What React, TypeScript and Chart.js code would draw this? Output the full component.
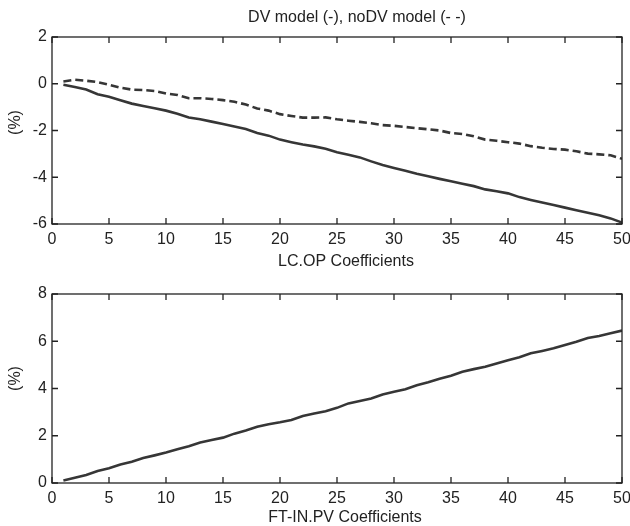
import React, { useEffect, useRef } from "react";
import { Chart, registerables } from "chart.js";

Chart.register(...registerables);

// ---------------- data ----------------
const xValues = [
  1, 2, 3, 4, 5, 6, 7, 8, 9, 10, 11, 12, 13, 14, 15, 16, 17, 18, 19, 20, 21, 22, 23, 24, 25,
  26, 27, 28, 29, 30, 31, 32, 33, 34, 35, 36, 37, 38, 39, 40, 41, 42, 43, 44, 45, 46, 47, 48, 49, 50,
];

const dvValues = [
  -0.04, -0.14, -0.25, -0.45, -0.56, -0.71, -0.85, -0.95, -1.05, -1.15,
  -1.28, -1.44, -1.52, -1.62, -1.72, -1.83, -1.94, -2.11, -2.22, -2.39,
  -2.5, -2.6, -2.68, -2.78, -2.93, -3.04, -3.15, -3.32, -3.48, -3.6,
  -3.72, -3.85, -3.96, -4.07, -4.17, -4.28, -4.38, -4.52, -4.6, -4.69,
  -4.85, -4.97, -5.08, -5.19, -5.3, -5.41, -5.52, -5.63, -5.76, -5.94,
];

const noDvValues = [
  0.1, 0.17, 0.13, 0.07, -0.04, -0.17, -0.25, -0.27, -0.31, -0.42,
  -0.48, -0.62, -0.62, -0.65, -0.7, -0.77, -0.89, -1.06, -1.15, -1.3,
  -1.38, -1.45, -1.45, -1.44, -1.52, -1.58, -1.63, -1.69, -1.77, -1.8,
  -1.85, -1.9, -1.95, -2.0, -2.11, -2.15, -2.25, -2.39, -2.44, -2.5,
  -2.56, -2.67, -2.74, -2.79, -2.82, -2.89, -2.99, -3.02, -3.06, -3.21,
];

const ftInValues = [
  0.11, 0.22, 0.34, 0.51, 0.62, 0.78, 0.9, 1.06, 1.17, 1.29,
  1.43, 1.56, 1.71, 1.82, 1.92, 2.09, 2.22, 2.38, 2.49, 2.57,
  2.67, 2.84, 2.94, 3.04, 3.18, 3.37, 3.47, 3.58, 3.75, 3.86,
  3.97, 4.14, 4.26, 4.41, 4.54, 4.71, 4.82, 4.92, 5.06, 5.2,
  5.32, 5.49, 5.59, 5.7, 5.84, 5.98, 6.14, 6.22, 6.34, 6.45,
];

const xTicks = [0, 5, 10, 15, 20, 25, 30, 35, 40, 45, 50];
const topYTicks = [-6, -4, -2, 0, 2];
const bottomYTicks = [0, 2, 4, 6, 8];

const titleText = "DV model (-), noDV model (- -)";
const topXLabel = "LC.OP Coefficients";
const bottomXLabel = "FT-IN.PV Coefficients";
const yLabel = "(%)";

// ---------------- styles ----------------
const FONT = "'Liberation Sans', Arial, Helvetica, sans-serif";
const FONT_SIZE = 16;
const TEXT_COLOR = "#222222";
const AXIS_COLOR = "#222222";
const LINE_COLOR = "#363636";

Chart.defaults.font.family = FONT;
Chart.defaults.font.size = FONT_SIZE;
Chart.defaults.color = TEXT_COLOR;

const framePlugin = {
  id: "frameDecor",
  afterDatasetsDraw(chart: any) {
    const { ctx, chartArea, scales } = chart;
    const { left, right, top, bottom } = chartArea;
    const d = chart.options.plugins.frameDecor || {};
    ctx.save();
    ctx.strokeStyle = AXIS_COLOR;
    ctx.lineWidth = 1.3;
    ctx.strokeRect(left, top, right - left, bottom - top);
    const tl = 6;
    ctx.beginPath();
    scales.x.ticks.forEach((t: any) => {
      const px = scales.x.getPixelForValue(t.value);
      ctx.moveTo(px, bottom);
      ctx.lineTo(px, bottom - tl);
      ctx.moveTo(px, top);
      ctx.lineTo(px, top + tl);
    });
    scales.y.ticks.forEach((t: any) => {
      const py = scales.y.getPixelForValue(t.value);
      ctx.moveTo(left, py);
      ctx.lineTo(left + tl, py);
      ctx.moveTo(right, py);
      ctx.lineTo(right - tl, py);
    });
    ctx.stroke();

    ctx.fillStyle = TEXT_COLOR;
    ctx.font = `${FONT_SIZE}px ${FONT}`;
    const cx = (left + right) / 2;
    if (d.title) {
      ctx.textAlign = "center";
      ctx.textBaseline = "alphabetic";
      ctx.fillText(d.title, cx + d.titleDx, d.titleBaseline);
    }
    if (d.xLabel) {
      ctx.textAlign = "center";
      ctx.textBaseline = "alphabetic";
      ctx.fillText(d.xLabel, cx + d.xLabelDx, d.xLabelBaseline);
    }
    if (d.yLabel) {
      ctx.save();
      ctx.translate(d.yLabelX, (top + bottom) / 2 + d.yLabelDy);
      ctx.rotate(-Math.PI / 2);
      ctx.textAlign = "center";
      ctx.textBaseline = "middle";
      ctx.fillText(d.yLabel, 0, 0);
      ctx.restore();
    }
    ctx.restore();
  },
};

function makeConfig(
  datasets: any[],
  yMin: number,
  yMax: number,
  yTicks: number[],
  padTop: number,
  xHeight: number,
  decor: any
) {
  return {
    type: "line",
    data: { datasets },
    options: {
      animation: false,
      responsive: false,
      devicePixelRatio: 1,
      layout: { padding: { top: padTop, right: 8, left: 0, bottom: 0 } },
      plugins: {
        legend: { display: false },
        tooltip: { enabled: false },
        title: { display: false },
        frameDecor: decor,
      },
      elements: { point: { radius: 0 }, line: { tension: 0 } },
      scales: {
        x: {
          type: "linear",
          min: 0,
          max: 50,
          grid: { display: false, drawTicks: false },
          border: { display: false },
          ticks: { padding: 6, color: TEXT_COLOR, font: { size: FONT_SIZE }, maxRotation: 0 },
          afterBuildTicks: (s: any) => {
            s.ticks = xTicks.map((v) => ({ value: v }));
          },
          afterFit: (s: any) => {
            s.height = xHeight;
            s.paddingLeft = 0;
            s.paddingRight = 0;
          },
        },
        y: {
          type: "linear",
          min: yMin,
          max: yMax,
          grid: { display: false, drawTicks: false },
          border: { display: false },
          ticks: { padding: 5, color: TEXT_COLOR, font: { size: FONT_SIZE } },
          afterBuildTicks: (s: any) => {
            s.ticks = yTicks.map((v) => ({ value: v }));
          },
          afterFit: (s: any) => {
            s.width = 52;
            s.paddingTop = 0;
            s.paddingBottom = 0;
          },
        },
      },
    },
    plugins: [framePlugin],
  };
}

function series(values: number[]) {
  return xValues.map((x, i) => ({ x, y: values[i] }));
}

export default function App() {
  const topRef = useRef<HTMLCanvasElement | null>(null);
  const bottomRef = useRef<HTMLCanvasElement | null>(null);

  useEffect(() => {
    const top = new Chart(
      topRef.current as HTMLCanvasElement,
      makeConfig(
        [
          {
            label: "DV model",
            data: series(dvValues),
            borderColor: LINE_COLOR,
            borderWidth: 2.6,
            fill: false,
          },
          {
            label: "noDV model",
            data: series(noDvValues),
            borderColor: LINE_COLOR,
            borderWidth: 2.6,
            borderDash: [8, 4],
            fill: false,
          },
        ],
        -6,
        2,
        topYTicks,
        37,
        46,
        {
          title: titleText,
          titleDx: 20,
          titleBaseline: 22,
          xLabel: topXLabel,
          xLabelDx: 9,
          xLabelBaseline: 265.5,
          yLabel: yLabel,
          yLabelX: 15.5,
          yLabelDy: -8,
        }
      ) as any
    );
    const bottom = new Chart(
      bottomRef.current as HTMLCanvasElement,
      makeConfig(
        [
          {
            label: "FT-IN.PV",
            data: series(ftInValues),
            borderColor: LINE_COLOR,
            borderWidth: 2.6,
            fill: false,
          },
        ],
        0,
        8,
        bottomYTicks,
        24,
        43,
        {
          xLabel: bottomXLabel,
          xLabelDx: 8,
          xLabelBaseline: 251.5,
          yLabel: yLabel,
          yLabelX: 15.5,
          yLabelDy: -10,
        }
      ) as any
    );
    return () => {
      top.destroy();
      bottom.destroy();
    };
  }, []);

  return (
    <div
      style={{
        position: "absolute",
        left: 0,
        top: 0,
        width: 630,
        height: 526,
        background: "#ffffff",
      }}
    >
      <canvas
        ref={topRef}
        width={630}
        height={270}
        style={{ position: "absolute", left: 0, top: 0, width: 630, height: 270 }}
      />
      <canvas
        ref={bottomRef}
        width={630}
        height={256}
        style={{ position: "absolute", left: 0, top: 270, width: 630, height: 256 }}
      />
    </div>
  );
}
